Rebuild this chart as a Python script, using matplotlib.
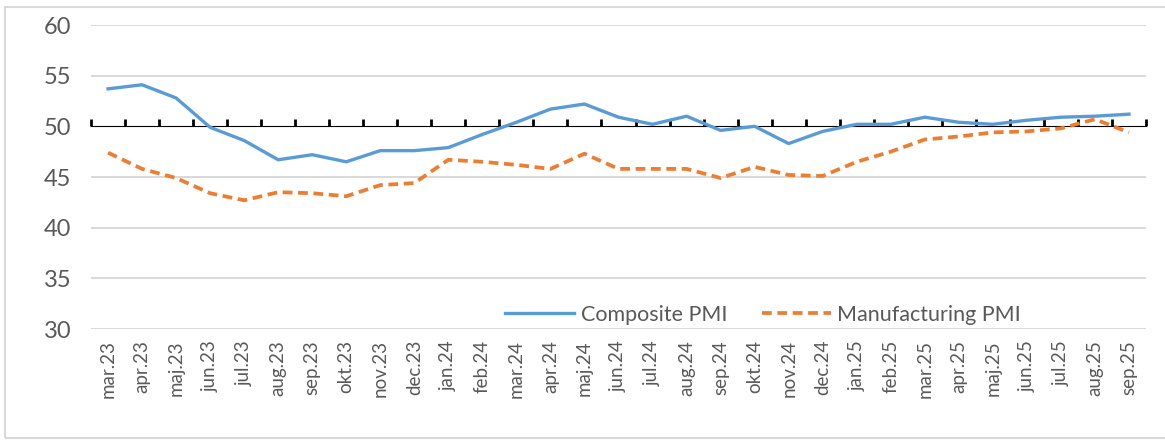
import matplotlib
matplotlib.use("Agg")
import matplotlib.pyplot as plt
from matplotlib.patches import Rectangle

months = ["mar.23", "apr.23", "maj.23", "jun.23", "jul.23", "aug.23", "sep.23", "okt.23",
          "nov.23", "dec.23", "jan.24", "feb.24", "mar.24", "apr.24", "maj.24", "jun.24",
          "jul.24", "aug.24", "sep.24", "okt.24", "nov.24", "dec.24", "jan.25", "feb.25",
          "mar.25", "apr.25", "maj.25", "jun.25", "jul.25", "aug.25", "sep.25"]

composite = [53.7, 54.1, 52.8, 49.9, 48.6, 46.7, 47.2, 46.5, 47.6, 47.6, 47.9, 49.2,
             50.4, 51.7, 52.2, 50.9, 50.2, 51.0, 49.6, 50.0, 48.3, 49.5, 50.2, 50.2,
             50.9, 50.4, 50.2, 50.6, 50.9, 51.0, 51.2]

manufacturing = [47.4, 45.8, 44.9, 43.4, 42.7, 43.5, 43.4, 43.1, 44.2, 44.4, 46.7, 46.5,
                 46.2, 45.8, 47.3, 45.8, 45.8, 45.8, 44.9, 46.0, 45.2, 45.1, 46.5, 47.5,
                 48.7, 49.0, 49.4, 49.5, 49.8, 50.7, 49.4]

yticks = [30, 35, 40, 45, 50, 55, 60]

plt.rcParams['font.family'] = ['Lato', 'DejaVu Sans']
text_col = "#595959"
grid_col = "#D9D9D9"

fig = plt.figure(figsize=(11.65, 4.4), dpi=100)
ax = fig.add_axes([91 / 1165, 1 - 329 / 440, 1055 / 1165, 304 / 440])

x = list(range(len(months)))
ax.plot(x, composite, color="#5B9BD5", lw=2.4, label="Composite PMI", zorder=4)
ax.plot(x, manufacturing, color="#ED7D31", lw=2.7, dashes=(2.6, 1.5),
        label="Manufacturing PMI", zorder=4)

ax.set_xlim(-0.5, len(months) - 0.5)
ax.set_ylim(30, 60)
ax.set_yticks(yticks)
for v in yticks:
    if v != 50:
        ax.axhline(v, color=grid_col, lw=1.4, zorder=1)

for s in ax.spines.values():
    s.set_visible(False)

ax.set_xticks(x)
ax.set_xticklabels(months, rotation=90, fontsize=13.5, color=text_col)
ax.tick_params(axis="x", length=0, pad=8)
ax.tick_params(axis="y", length=0, pad=14, labelsize=17, labelcolor=text_col)

# category axis drawn at 50
sec = ax.secondary_xaxis(2 / 3)
sec.set_xticks([i - 0.5 for i in range(len(months) + 1)])
sec.set_xticklabels([])
sec.tick_params(axis="x", direction="out", length=5, width=2, color="black")
sec.spines["bottom"].set_color("black")
sec.spines["bottom"].set_linewidth(2.4)
sec.spines["bottom"].set_zorder(3)

ax.legend(loc="center", bbox_to_anchor=(0.637, 0.046), ncol=2, frameon=False,
          fontsize=15.5, labelcolor=text_col, handlelength=3.2, handletextpad=0.3,
          columnspacing=1.6)

fig.patches.append(Rectangle((5 / 1165, 2 / 440), 1.2, 1 - 9 / 440,
                             transform=fig.transFigure, fill=False,
                             edgecolor=grid_col, lw=1.5))

fig.savefig("out.png", dpi=100)
